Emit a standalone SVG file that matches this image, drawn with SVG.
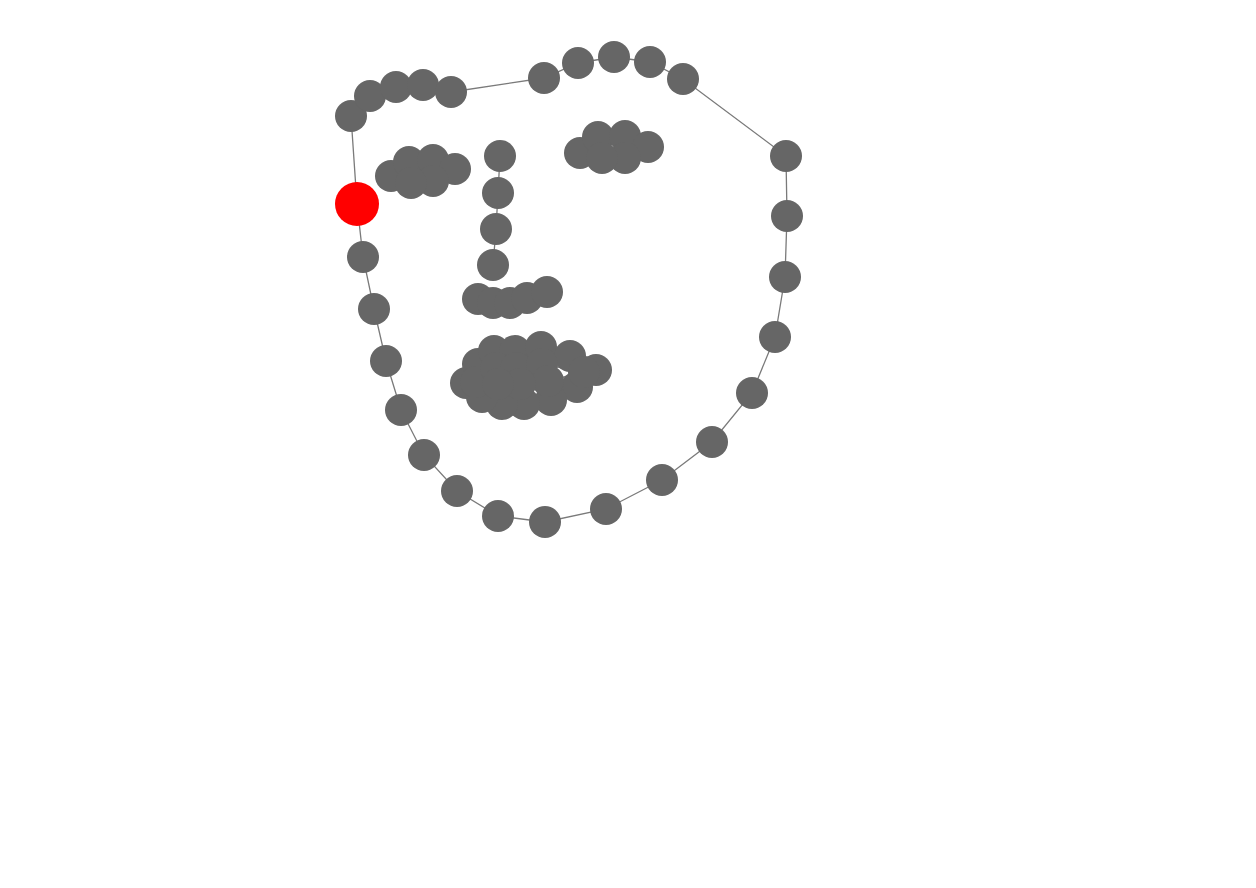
<svg xmlns="http://www.w3.org/2000/svg" width="1256" height="888" viewBox="0 0 1256 888">
<style>
.n{fill:#666666}
.r{fill:#ff0000}
.e{fill:none;stroke:#7a7a7a;stroke-width:1.3}
</style>
<rect width="1256" height="888" fill="#ffffff"/>
<g id="connectors">
<polyline class="e" points="351,116 357,204 363,257 374,309 386,361 401,410 424,455 457,491 498,516 545,522 606,509 662,480 712,442 752,393 775,337 785,277 787,216 786,156 683,79 650,62 614,57 578,63 544,78 451,92 423,85 396,87 370,96 351,116"/>
<polyline class="e" points="500,156 498,193 496,229 493,265"/>
<polyline class="e" points="478,299 493,303 510,303 527,298 547,292"/>
<polygon class="e" points="391,176 409,162 433,160 455,169 433,181 411,183"/>
<polygon class="e" points="580,153 598,137 625,136 648,147 625,158 602,158"/>
<polygon class="e" points="466,383 478,364 494,351 515,351 541,347 570,356 596,370 577,387 551,400 524,404 502,404 482,397"/>
<polygon class="e" points="476,382 496,368 516,368 542,364 584,372 548,381 520,384 498,384"/>
</g>
<g id="n0"><circle class="r" cx="357" cy="204" r="22"/></g>
<g id="n1"><circle class="n" cx="363" cy="257" r="16"/></g>
<g id="n2"><circle class="n" cx="374" cy="309" r="16"/></g>
<g id="n3"><circle class="n" cx="386" cy="361" r="16"/></g>
<g id="n4"><circle class="n" cx="401" cy="410" r="16"/></g>
<g id="n5"><circle class="n" cx="424" cy="455" r="16"/></g>
<g id="n6"><circle class="n" cx="457" cy="491" r="16"/></g>
<g id="n7"><circle class="n" cx="498" cy="516" r="16"/></g>
<g id="n8"><circle class="n" cx="545" cy="522" r="16"/></g>
<g id="n9"><circle class="n" cx="606" cy="509" r="16"/></g>
<g id="n10"><circle class="n" cx="662" cy="480" r="16"/></g>
<g id="n11"><circle class="n" cx="712" cy="442" r="16"/></g>
<g id="n12"><circle class="n" cx="752" cy="393" r="16"/></g>
<g id="n13"><circle class="n" cx="775" cy="337" r="16"/></g>
<g id="n14"><circle class="n" cx="785" cy="277" r="16"/></g>
<g id="n15"><circle class="n" cx="787" cy="216" r="16"/></g>
<g id="n16"><circle class="n" cx="786" cy="156" r="16"/></g>
<g id="n17"><circle class="n" cx="351" cy="116" r="16"/></g>
<g id="n18"><circle class="n" cx="370" cy="96" r="16"/></g>
<g id="n19"><circle class="n" cx="396" cy="87" r="16"/></g>
<g id="n20"><circle class="n" cx="423" cy="85" r="16"/></g>
<g id="n21"><circle class="n" cx="451" cy="92" r="16"/></g>
<g id="n22"><circle class="n" cx="544" cy="78" r="16"/></g>
<g id="n23"><circle class="n" cx="578" cy="63" r="16"/></g>
<g id="n24"><circle class="n" cx="614" cy="57" r="16"/></g>
<g id="n25"><circle class="n" cx="650" cy="62" r="16"/></g>
<g id="n26"><circle class="n" cx="683" cy="79" r="16"/></g>
<g id="n27"><circle class="n" cx="500" cy="156" r="16"/></g>
<g id="n28"><circle class="n" cx="498" cy="193" r="16"/></g>
<g id="n29"><circle class="n" cx="496" cy="229" r="16"/></g>
<g id="n30"><circle class="n" cx="493" cy="265" r="16"/></g>
<g id="n31"><circle class="n" cx="478" cy="299" r="16"/></g>
<g id="n32"><circle class="n" cx="493" cy="303" r="16"/></g>
<g id="n33"><circle class="n" cx="510" cy="303" r="16"/></g>
<g id="n34"><circle class="n" cx="527" cy="298" r="16"/></g>
<g id="n35"><circle class="n" cx="547" cy="292" r="16"/></g>
<g id="n36"><circle class="n" cx="391" cy="176" r="16"/></g>
<g id="n37"><circle class="n" cx="409" cy="162" r="16"/></g>
<g id="n38"><circle class="n" cx="433" cy="160" r="16"/></g>
<g id="n39"><circle class="n" cx="455" cy="169" r="16"/></g>
<g id="n40"><circle class="n" cx="433" cy="181" r="16"/></g>
<g id="n41"><circle class="n" cx="411" cy="183" r="16"/></g>
<g id="n42"><circle class="n" cx="580" cy="153" r="16"/></g>
<g id="n43"><circle class="n" cx="598" cy="137" r="16"/></g>
<g id="n44"><circle class="n" cx="625" cy="136" r="16"/></g>
<g id="n45"><circle class="n" cx="648" cy="147" r="16"/></g>
<g id="n46"><circle class="n" cx="625" cy="158" r="16"/></g>
<g id="n47"><circle class="n" cx="602" cy="158" r="16"/></g>
<g id="n48"><circle class="n" cx="466" cy="383" r="16"/></g>
<g id="n49"><circle class="n" cx="478" cy="364" r="16"/></g>
<g id="n50"><circle class="n" cx="494" cy="351" r="16"/></g>
<g id="n51"><circle class="n" cx="515" cy="351" r="16"/></g>
<g id="n52"><circle class="n" cx="541" cy="347" r="16"/></g>
<g id="n53"><circle class="n" cx="570" cy="356" r="16"/></g>
<g id="n54"><circle class="n" cx="596" cy="370" r="16"/></g>
<g id="n55"><circle class="n" cx="577" cy="387" r="16"/></g>
<g id="n56"><circle class="n" cx="551" cy="400" r="16"/></g>
<g id="n57"><circle class="n" cx="524" cy="404" r="16"/></g>
<g id="n58"><circle class="n" cx="502" cy="404" r="16"/></g>
<g id="n59"><circle class="n" cx="482" cy="397" r="16"/></g>
<g id="n60"><circle class="n" cx="476" cy="382" r="16"/></g>
<g id="n61"><circle class="n" cx="496" cy="368" r="16"/></g>
<g id="n62"><circle class="n" cx="516" cy="368" r="16"/></g>
<g id="n63"><circle class="n" cx="542" cy="364" r="16"/></g>
<g id="n64"><circle class="n" cx="584" cy="372" r="16"/></g>
<g id="n65"><circle class="n" cx="548" cy="381" r="16"/></g>
<g id="n66"><circle class="n" cx="520" cy="384" r="16"/></g>
<g id="n67"><circle class="n" cx="498" cy="384" r="16"/></g>
</svg>
